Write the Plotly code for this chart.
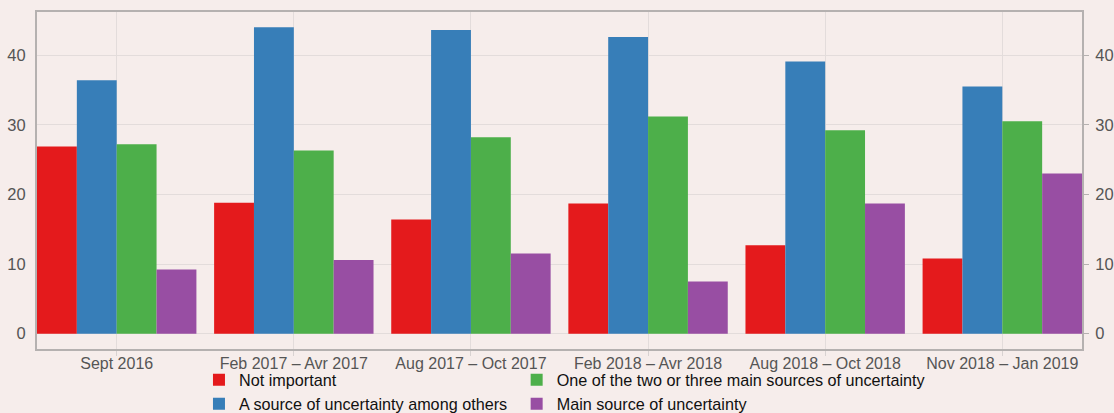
import plotly.graph_objects as go

categories = ["Sept 2016", "Feb 2017 – Avr 2017", "Aug 2017 – Oct 2017",
              "Feb 2018 – Avr 2018", "Aug 2018 – Oct 2018", "Nov 2018 – Jan 2019"]
not_important = [26.9, 18.8, 16.4, 18.7, 12.7, 10.8]
source_among_others = [36.4, 44.0, 43.6, 42.6, 39.1, 35.5]
one_of_main = [27.2, 26.3, 28.2, 31.2, 29.2, 30.5]
main_source = [9.2, 10.6, 11.5, 7.5, 18.7, 23.0]
y_ticks = [0, 10, 20, 30, 40]

series = [
    ("Not important", not_important, "#E41A1C", "legend"),
    ("A source of uncertainty among others", source_among_others, "#377EB8", "legend"),
    ("One of the two or three main sources of uncertainty", one_of_main, "#4DAF4A", "legend2"),
    ("Main source of uncertainty", main_source, "#984EA3", "legend2"),
]

BG = "#F6EDEB"
FONT = "Liberation Sans, Arial, Helvetica, sans-serif"

fig = go.Figure()
for name, vals, color, leg in series:
    fig.add_trace(go.Bar(x=categories, y=vals, name=name, marker_color=color,
                         marker_line_width=0, legend=leg))

# invisible trace to anchor right axis
fig.add_trace(go.Scatter(x=[categories[0]], y=[0], yaxis="y2", mode="markers",
                         marker_opacity=0, showlegend=False, hoverinfo="skip"))

yrange = [-2.2, 46.2]
axis_common = dict(
    range=yrange, tickvals=y_ticks, showgrid=True, gridcolor="#E3DCDB", gridwidth=1,
    zeroline=False, tickfont=dict(family=FONT, size=16.5, color="#555555"),
)

legend_common = dict(orientation="v", yref="container", yanchor="top", xanchor="left",
                     bgcolor="rgba(0,0,0,0)", tracegroupgap=0, itemwidth=30,
                     font=dict(family=FONT, size=16.2, color="#111111"))

fig.update_layout(
    width=1114, height=413,
    margin=dict(l=37, r=32, t=12, b=64, autoexpand=False),
    paper_bgcolor=BG, plot_bgcolor=BG,
    barmode="group", bargap=0.1, bargroupgap=0,
    font=dict(family=FONT),
    xaxis=dict(range=[-0.45, 5.45], showgrid=True, gridcolor="#E3DCDB", gridwidth=1,
               ticks="outside", ticklen=5, tickcolor="#D8D2D1", ticklabelstandoff=-6,
               showline=True, linecolor="#B5B1B0", linewidth=2, mirror=True,
               tickfont=dict(family=FONT, size=16, color="#555555")),
    yaxis=dict(**axis_common, showline=True, linecolor="#B5B1B0", linewidth=2, mirror=True,
               ticks="", ticklabelstandoff=6),
    yaxis2=dict(**axis_common, overlaying="y", side="right", showline=False,
                ticks="outside", ticklen=6, tickcolor="#B5B1B0", ticklabelstandoff=3),
    legend=dict(**legend_common, x=0.155, y=0.122),
    legend2=dict(**legend_common, x=0.459, y=0.122),
    showlegend=True,
)

fig.write_html("out.html")
